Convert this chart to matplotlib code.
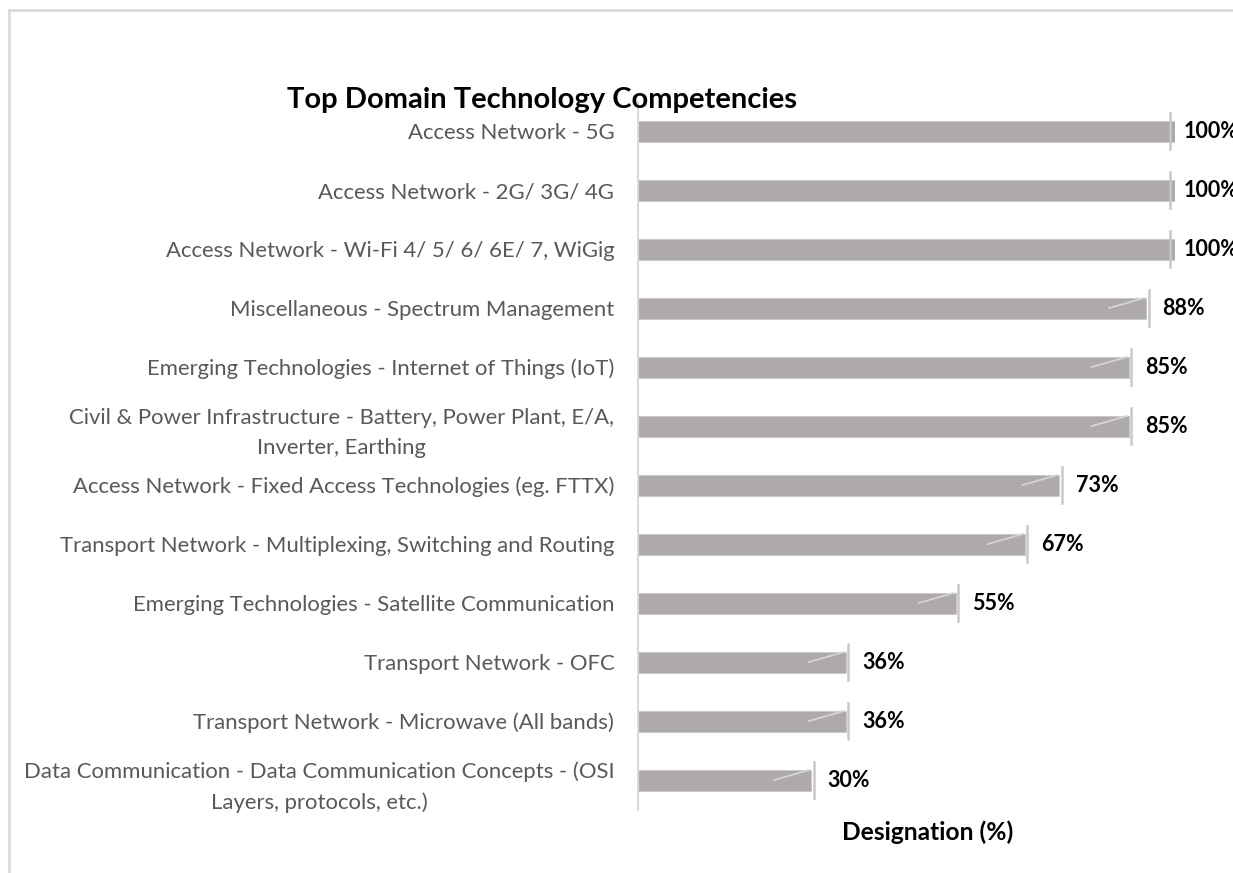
import matplotlib
matplotlib.use('Agg')
import matplotlib.pyplot as plt
from matplotlib.lines import Line2D

plt.rcParams['font.family'] = ['Lato', 'DejaVu Sans']

categories = [
    'Access Network - 5G',
    'Access Network - 2G/ 3G/ 4G',
    'Access Network - Wi-Fi 4/ 5/ 6/ 6E/ 7, WiGig',
    'Miscellaneous - Spectrum Management',
    'Emerging Technologies - Internet of Things (IoT)',
    'Civil & Power Infrastructure - Battery, Power Plant, E/A,\nInverter, Earthing',
    'Access Network - Fixed Access Technologies (eg. FTTX)',
    'Transport Network - Multiplexing, Switching and Routing',
    'Emerging Technologies - Satellite Communication',
    'Transport Network - OFC',
    'Transport Network - Microwave (All bands)',
    'Data Communication - Data Communication Concepts - (OSI\nLayers, protocols, etc.)',
]
values = [100, 100, 100, 88, 85, 85, 73, 67, 55, 36, 36, 30]
value_labels = ['100%', '100%', '100%', '88%', '85%', '85%', '73%', '67%', '55%', '36%', '36%', '30%']

XMAX = 93  # axis max, bars at 100 get cut off like in the original

fig = plt.figure(figsize=(12.33, 8.73), dpi=100)
ax = fig.add_axes([0.5174, 0.0727, 0.4355, 0.811])

ypos = list(range(len(categories)))
ax.barh(ypos, values, height=0.355, color='#AEAAAA', edgecolor='#c9c6c6', linewidth=0.6, zorder=2)

for y, v, lab in zip(ypos, values, value_labels):
    # little vertical cap at the end of each bar
    tx = min(v + 0.45, XMAX - 0.9)
    ax.plot([tx, tx], [y - 0.31, y + 0.31], color='#c8c8c8', lw=1.8, zorder=3, clip_on=False)
    # faint diagonal stroke near the bar end
    ax.plot([v - 6.4, v - 0.35], [y, y - 0.17], color='#d6d4d4', lw=1.3, zorder=3)
    ax.annotate(lab, (tx, y), xytext=(10, 0), textcoords='offset points',
                va='center', ha='left', fontsize=15.5, fontweight='bold', color='black',
                annotation_clip=False)

ax.set_xlim(0, XMAX)
ax.set_ylim(len(categories) - 0.5, -0.5)
ax.set_yticks(ypos)
ax.set_yticklabels(categories, fontsize=15.9, color='#595959', multialignment='center',
                   linespacing=1.6)
ax.tick_params(axis='y', length=0, pad=17)
ax.set_xticks([])
for s in ['top', 'right', 'bottom']:
    ax.spines[s].set_visible(False)
ax.spines['left'].set_color('#d9d9d9')
ax.spines['left'].set_linewidth(1.5)

fig.text(0.4396, 1 - 100 / 873, 'Top Domain Technology Competencies', fontsize=21,
         fontweight='bold', ha='center', va='center')
fig.text(0.752, 1 - 832 / 873, 'Designation (%)', fontsize=17.7,
         fontweight='bold', ha='center', va='center')

# chart frame (top and left edges visible)
fig.add_artist(Line2D([9 / 1233, 1], [1 - 10 / 873, 1 - 10 / 873], color='#d9d9d9', lw=2))
fig.add_artist(Line2D([9 / 1233, 9 / 1233], [0, 1 - 10 / 873], color='#d9d9d9', lw=2))

fig.savefig('out.png', dpi=100)
